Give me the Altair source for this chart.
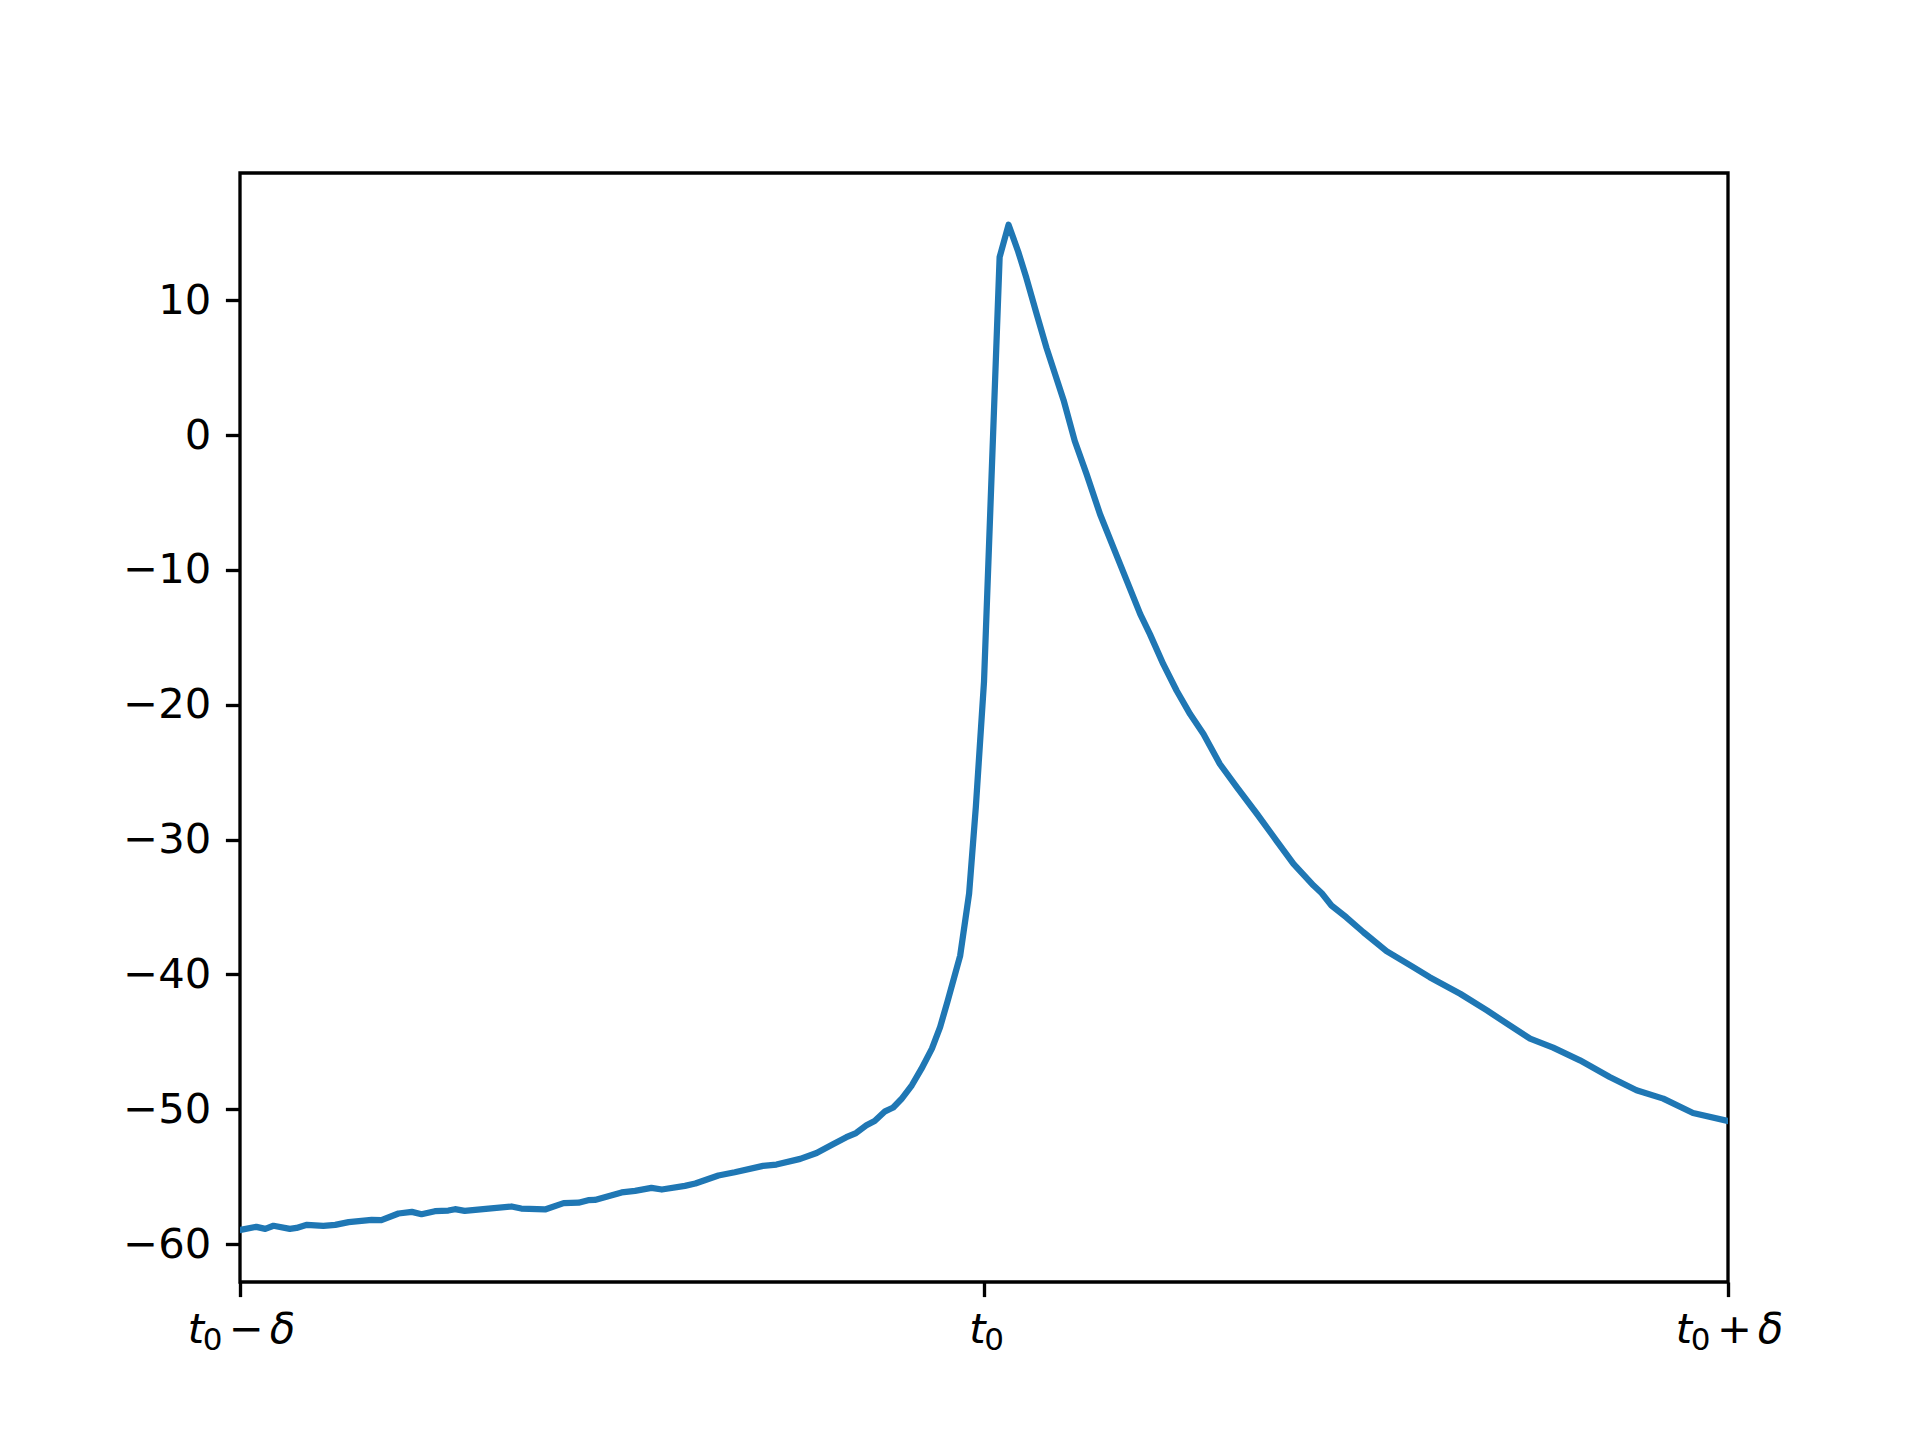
import altair as alt
import pandas as pd

# time position in units of delta/100 (t0 = 0)
t_pos = [
    -100, -97.8, -96.6, -95.5, -93.3, -92.4, -91.0, -88.8, -87.2, -85.4,
    -82.3, -81.0, -78.7, -76.9, -75.6, -73.8, -72.0, -71.1, -69.8, -66.6,
    -63.5, -62.2, -59.0, -56.5, -54.5, -53.2, -52.3, -48.7, -46.9, -44.7,
    -43.3, -40.2, -38.8, -35.7, -33.5, -29.7, -27.9, -24.7, -22.5, -20.3,
    -18.5, -17.2, -15.8, -14.7, -13.3, -12.2, -11.1, -9.7, -8.4, -7.0,
    -5.9, -4.9, -3.2, -2.0, -1.1, 0.0, 2.1, 3.3, 4.6, 5.7,
    7.1, 8.4, 10.7, 12.2, 13.8, 15.6, 17.4, 19.2, 21.0, 22.3,
    24.1, 25.9, 27.7, 29.5, 31.7, 34.0, 36.7, 39.3, 41.6, 44.3,
    45.4, 46.7, 48.7, 51.0, 54.1, 57.7, 59.9, 64.0, 67.6, 70.3,
    73.4, 76.5, 80.1, 84.1, 87.7, 91.3, 95.3, 100,
]
signal = [
    -58.95, -58.72, -58.87, -58.64, -58.87, -58.80, -58.57, -58.64, -58.57, -58.37,
    -58.20, -58.22, -57.73, -57.61, -57.78, -57.56, -57.51, -57.41, -57.53, -57.36,
    -57.21, -57.36, -57.43, -56.96, -56.93, -56.74, -56.72, -56.17, -56.05, -55.83,
    -55.95, -55.68, -55.51, -54.91, -54.67, -54.20, -54.10, -53.68, -53.24, -52.59,
    -52.07, -51.76, -51.19, -50.87, -50.15, -49.87, -49.24, -48.22, -46.99, -45.50,
    -43.90, -42.00, -38.60, -34.00, -27.60, -18.30, 13.20, 15.60, 13.60, 11.65,
    8.94, 6.47, 2.59, -0.44, -2.91, -5.87, -8.35, -10.81, -13.28, -14.76,
    -16.99, -18.96, -20.69, -22.17, -24.39, -26.13, -28.10, -30.07, -31.80, -33.41,
    -33.98, -34.89, -35.76, -36.87, -38.27, -39.46, -40.20, -41.43, -42.67, -43.65,
    -44.76, -45.43, -46.37, -47.61, -48.59, -49.21, -50.28, -50.87,
]

# x tick labels t0 - delta, t0, t0 + delta, written as (italic symbol, subscript, operator, italic symbol)
x_tick_values = [-100, 0, 100]
x_tick_symbol = ["t", "t", "t"]
x_tick_sub = ["0", "0", "0"]
x_tick_op = ["\u2212", "", "+"]
x_tick_tail = ["\u03b4", "", "\u03b4"]
y_tick_values = [-60, -50, -40, -30, -20, -10, 0, 10]

df = pd.DataFrame({"t": t_pos, "v": signal})

FONT = "DejaVu Sans"
LABEL_SIZE = 41.7
SUB_SIZE = 31
TICK_W = 3.33
TICK_LEN = 14.6
PLOT_W, PLOT_H = 1488, 1109
BASE_Y = 1170          # baseline of the x tick labels, px below the plot top
SUB_Y = 1177           # baseline of the subscripts

x_enc = alt.X(
    "t:Q",
    scale=alt.Scale(domain=[-100, 100], nice=False, zero=False),
    axis=alt.Axis(
        values=x_tick_values,
        labels=False,
        title=None,
        grid=False,
        domain=False,
        ticks=True,
        tickColor="black",
        tickWidth=TICK_W,
        tickSize=TICK_LEN,
    ),
)

line = (
    alt.Chart(df)
    .mark_line(color="#1f77b4", strokeWidth=6.25, strokeJoin="round", strokeCap="square", clip=True)
    .encode(
        x=x_enc,
        y=alt.Y(
            "v:Q",
            scale=alt.Scale(domain=[-62.81, 19.44], nice=False, zero=False),
            axis=alt.Axis(
                values=y_tick_values,
                labelExpr="replace(datum.label, '-', '\u2212')",
                format="d",
                title=None,
                grid=False,
                domain=False,
                ticks=True,
                tickColor="black",
                tickWidth=TICK_W,
                tickSize=TICK_LEN,
                labelFont=FONT,
                labelFontSize=LABEL_SIZE,
                labelColor="black",
                labelPadding=14.6,
                labelOverlap=False,
            ),
        ),
        order="t:Q",
    )
)

# horizontal offsets (px) of each label piece from its tick, for labels with and without operator
OFF_FULL = {"sym": -44, "sub": -27.5, "op": 6.4, "tail": 42.5}
OFF_SHORT = {"sym": -6.7, "sub": 10}

layers = [line]
for tv, sym, sub, op, tail in zip(x_tick_values, x_tick_symbol, x_tick_sub, x_tick_op, x_tick_tail):
    off = OFF_FULL if op else OFF_SHORT
    one = pd.DataFrame({"t": [tv]})
    pieces = [
        (sym, off["sym"], BASE_Y, LABEL_SIZE, "italic"),
        (sub, off["sub"], SUB_Y, SUB_SIZE, "normal"),
    ]
    if op:
        pieces.append((op, off["op"], BASE_Y, LABEL_SIZE, "normal"))
        pieces.append((tail, off["tail"], BASE_Y, LABEL_SIZE, "italic"))
    for txt, dx, yb, size, style in pieces:
        layers.append(
            alt.Chart(one)
            .mark_text(
                text=txt,
                dx=dx,
                align="center",
                baseline="alphabetic",
                font=FONT,
                fontSize=size,
                fontStyle=style,
                color="black",
                clip=False,
            )
            .encode(x=x_enc, y=alt.value(yb))
        )

chart = (
    alt.layer(*layers)
    .properties(
        width=PLOT_W,
        height=PLOT_H,
        autosize=alt.AutoSizeParams(type="none"),
        padding={"left": 232, "top": 165, "right": 180, "bottom": 140},
        background="white",
    )
    .configure_view(stroke="black", strokeWidth=TICK_W)
)

chart.save("out.html", embed_options={"renderer": "svg", "actions": False})
